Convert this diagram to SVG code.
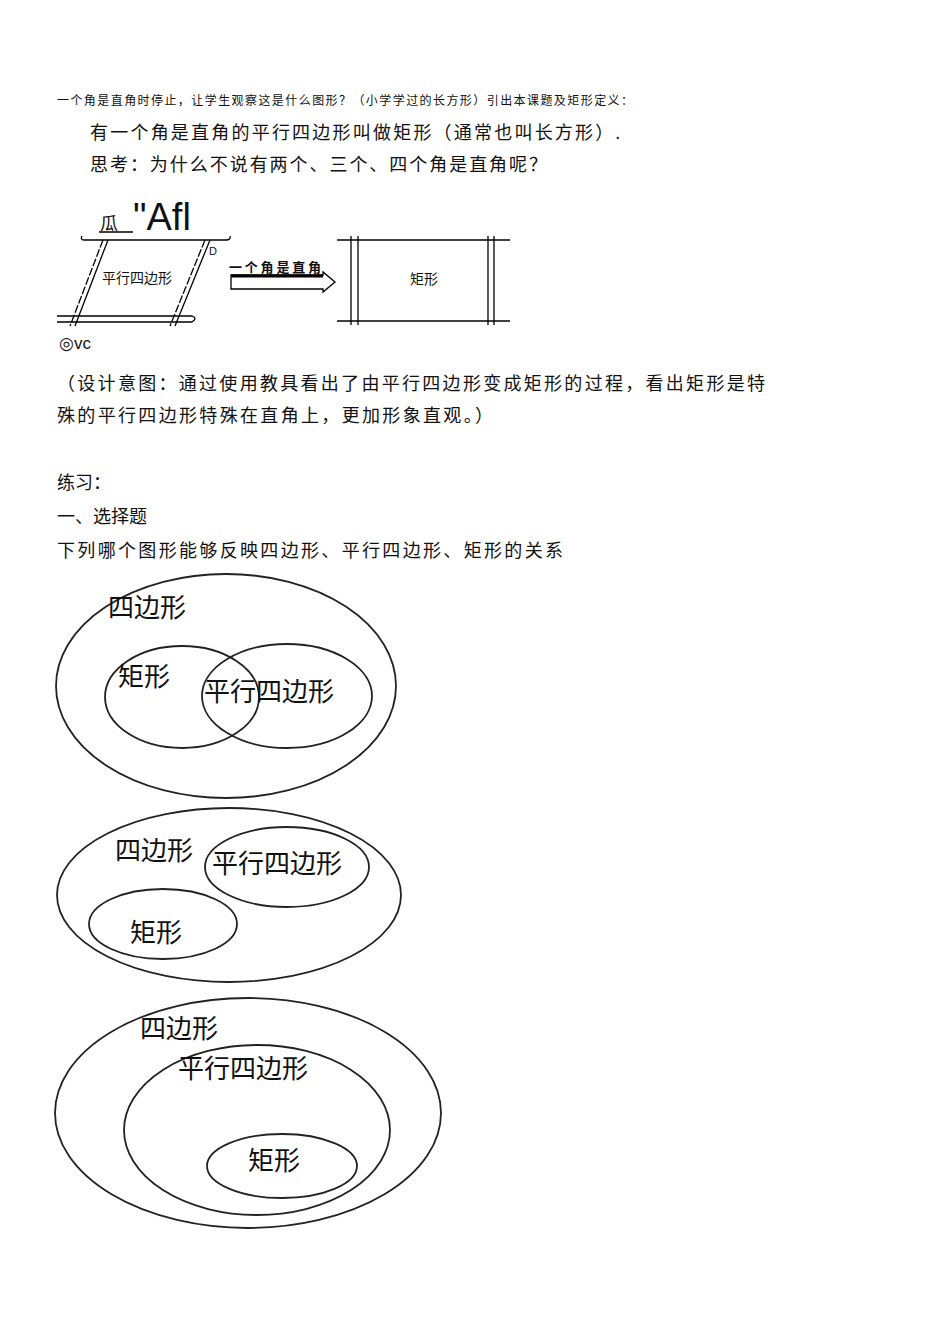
<svg xmlns="http://www.w3.org/2000/svg" width="950" height="1344" viewBox="0 0 950 1344">
<style>
text{font-family:"Liberation Serif","Noto Sans CJK SC",serif;fill:#111}
.s{font-size:12px}.m{font-size:18px}.b{font-size:26px}
.l{stroke:#000;stroke-width:1.3;fill:none}
.e{stroke:#222;stroke-width:1.8;fill:none}
</style>
<rect width="950" height="1344" fill="#fff"/>
<text class="s" x="57" y="105" textLength="576" lengthAdjust="spacing">一个角是直角时停止，让学生观察这是什么图形？（小学学过的长方形）引出本课题及矩形定义：</text>
<text class="m" x="90" y="139" textLength="530" lengthAdjust="spacing">有一个角是直角的平行四边形叫做矩形（通常也叫长方形）.</text>
<text class="m" x="90" y="171" textLength="457" lengthAdjust="spacing">思考：为什么不说有两个、三个、四个角是直角呢？</text>
<g id="fig1">
<text x="133" y="230" style="font-family:'Liberation Sans',sans-serif;font-size:38px">"Afl</text>
<text x="100" y="230" style="font-size:18px">瓜</text>
<line class="l" x1="99" y1="232" x2="133" y2="232"/>
<path class="l" d="M82 236 Q80 240 84 240 L226 240 Q231 240 230 236"/>
<path class="l" d="M57 316 L192 316 Q198 318 192 322 L57 322"/>
<line class="l" x1="103" y1="240" x2="70" y2="326" stroke-dasharray="8 2"/>
<line class="l" x1="108" y1="240" x2="75" y2="326"/>
<line class="l" x1="205" y1="240" x2="170" y2="326" stroke-dasharray="8 2"/>
<line class="l" x1="210" y1="240" x2="175" y2="326"/>
<text x="209" y="255" style="font-size:11px;font-family:'Liberation Sans',sans-serif">D</text>
<text x="102" y="283" style="font-size:14px">平行四边形</text>
<text x="59" y="349" style="font-size:17px;font-family:'Liberation Sans',sans-serif">◎vc</text>
</g>
<g id="arrow">
<text x="229" y="272" style="font-size:13px;font-weight:bold" textLength="92" lengthAdjust="spacing">一个角是直角</text>
<path d="M231 275 L323 275 L323 272 L335 282 L323 292 L323 289 L231 289 Z" fill="#fff" stroke="#000" stroke-width="1.3"/>
<line x1="231" y1="276" x2="323" y2="276" stroke="#000" stroke-width="3"/>
</g>
<g id="rect">
<line class="l" x1="337" y1="240" x2="510" y2="240"/>
<line class="l" x1="337" y1="321" x2="510" y2="321"/>
<line class="l" x1="351" y1="236" x2="351" y2="325"/>
<line class="l" x1="358" y1="236" x2="358" y2="325"/>
<line class="l" x1="488" y1="236" x2="488" y2="325"/>
<line class="l" x1="494" y1="236" x2="494" y2="325"/>
<text x="410" y="284" style="font-size:14px">矩形</text>
</g>
<text class="m" x="57" y="390" textLength="708" lengthAdjust="spacing">（设计意图：通过使用教具看出了由平行四边形变成矩形的过程，看出矩形是特</text>
<text class="m" x="57" y="422" textLength="436" lengthAdjust="spacing">殊的平行四边形特殊在直角上，更加形象直观。）</text>
<text class="m" x="57" y="489">练习：</text>
<text class="m" x="57" y="523">一、选择题</text>
<text class="m" x="57" y="557" textLength="506" lengthAdjust="spacing">下列哪个图形能够反映四边形、平行四边形、矩形的关系</text>
<g id="venn1">
<ellipse class="e" cx="226" cy="686" rx="170" ry="112"/>
<ellipse class="e" cx="182" cy="697" rx="77" ry="51"/>
<ellipse class="e" cx="287" cy="696" rx="85" ry="52"/>
<text class="b" x="108" y="617">四边形</text>
<text class="b" x="118" y="686">矩形</text>
<text class="b" x="204" y="701">平行四边形</text>
</g>
<g id="venn2">
<ellipse class="e" cx="229" cy="895" rx="172" ry="87"/>
<ellipse class="e" cx="287" cy="867" rx="82" ry="40"/>
<ellipse class="e" cx="163" cy="924" rx="74" ry="35"/>
<text class="b" x="115" y="860">四边形</text>
<text class="b" x="212" y="873">平行四边形</text>
<text class="b" x="130" y="942">矩形</text>
</g>
<g id="venn3">
<ellipse class="e" cx="248" cy="1113" rx="193" ry="115"/>
<ellipse class="e" cx="257" cy="1130" rx="133" ry="85"/>
<ellipse class="e" cx="282" cy="1166" rx="75" ry="32"/>
<text class="b" x="140" y="1038">四边形</text>
<text class="b" x="178" y="1078">平行四边形</text>
<text class="b" x="248" y="1170">矩形</text>
</g>
</svg>
